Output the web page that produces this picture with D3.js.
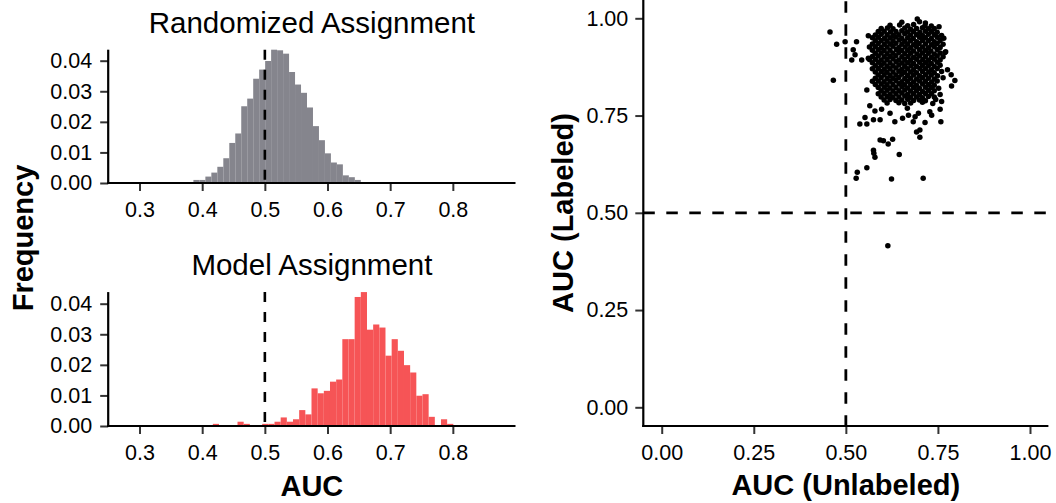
<!DOCTYPE html>
<html>
<head>
<meta charset="utf-8">
<script src="https://cdn.jsdelivr.net/npm/d3@7"></script>
<style>
  body { margin: 0; background: #fff; }
  svg text { font-family: "Liberation Sans", Arial, sans-serif; fill: #000; }
  .tick-label { font-size: 21.5px; }
  .panel-title { font-size: 29.5px; }
  .axis-title { font-size: 29px; font-weight: bold; }
</style>
</head>
<body>
<div id="chart"></div>
<script>
// tick values
const aucTicks = [0.3, 0.4, 0.5, 0.6, 0.7, 0.8];
const freqTicks = [0, 0.01, 0.02, 0.03, 0.04];
const scatterTicks = [0, 0.25, 0.5, 0.75, 1];

// Randomized Assignment histogram (frequency per bin)
const randomBinStart = 0.386;
const randomBinWidth = 0.00954;
const randomFreq = [0.0010, 0.0010, 0.0021, 0.0034, 0.0053, 0.0081, 0.0131, 0.0162, 0.0251, 0.0276,
    0.0341, 0.0371, 0.0399, 0.0436, 0.0434, 0.0423, 0.0363, 0.0322, 0.0295, 0.0247,
    0.0186, 0.0140, 0.0097, 0.0067, 0.0061, 0.0025, 0.0019, 0.0010];

// Model Assignment histogram
const modelBinStart = 0.417;
const modelBinWidth = 0.00984;
const modelFreq = [0.0007, 0, 0, 0, 0.0014, 0.0007, 0, 0, 0.0007, 0.0007,
    0.0014, 0.0028, 0.0014, 0.0022, 0.0052, 0.0038, 0.0123, 0.0107, 0.0115, 0.0145,
    0.0152, 0.0284, 0.0284, 0.0422, 0.0438, 0.0315, 0.0332, 0.0322, 0.0230, 0.0284,
    0.0246, 0.0199, 0.0175, 0.0099, 0.0104, 0.0030, 0, 0.0022, 0.0007];

// [AUC unlabeled, AUC labeled]
const aucPairs = [
    [0.694,0.998],
    [0.652,0.990],[0.700,0.991],[0.716,0.988],
    [0.620,0.982],[0.646,0.983],[0.668,0.981],[0.684,0.984],[0.715,0.981],[0.732,0.980],[0.753,0.978],
    [0.596,0.974],[0.613,0.975],[0.628,0.973],[0.660,0.975],[0.676,0.972],[0.692,0.974],[0.708,0.976],[0.724,0.973],[0.740,0.974],
    [0.588,0.966],[0.604,0.967],[0.621,0.965],[0.636,0.966],[0.652,0.968],[0.667,0.965],[0.684,0.966],[0.701,0.964],[0.716,0.967],[0.733,0.966],[0.748,0.964],
    [0.580,0.957],[0.596,0.959],[0.612,0.958],[0.629,0.956],[0.644,0.958],[0.660,0.960],[0.676,0.957],[0.692,0.958],[0.708,0.956],[0.724,0.959],[0.740,0.958],[0.760,0.956],
    [0.572,0.950],[0.588,0.951],[0.605,0.949],[0.620,0.950],[0.636,0.952],[0.652,0.949],[0.668,0.950],[0.683,0.948],[0.700,0.951],[0.716,0.950],[0.732,0.948],[0.748,0.951],[0.766,0.949],
    [0.580,0.942],[0.596,0.943],[0.612,0.941],[0.628,0.942],[0.645,0.944],[0.660,0.941],[0.676,0.942],[0.692,0.940],[0.708,0.943],[0.724,0.942],[0.740,0.940],[0.756,0.943],
    [0.572,0.934],[0.588,0.935],[0.604,0.933],[0.621,0.934],[0.636,0.936],[0.652,0.933],[0.668,0.934],[0.684,0.932],[0.699,0.935],[0.716,0.934],[0.732,0.932],[0.748,0.935],[0.764,0.933],
    [0.564,0.926],[0.580,0.927],[0.596,0.925],[0.612,0.926],[0.628,0.928],[0.644,0.925],[0.661,0.926],[0.676,0.924],[0.692,0.927],[0.708,0.926],[0.724,0.924],[0.740,0.927],[0.756,0.925],
    [0.572,0.918],[0.588,0.919],[0.604,0.917],[0.620,0.918],[0.637,0.920],[0.652,0.917],[0.668,0.918],[0.684,0.916],[0.700,0.919],[0.716,0.918],[0.731,0.916],[0.748,0.919],[0.771,0.914],
    [0.580,0.910],[0.596,0.911],[0.612,0.909],[0.628,0.910],[0.644,0.912],[0.660,0.909],[0.676,0.910],[0.693,0.908],[0.708,0.911],[0.724,0.910],[0.740,0.908],[0.756,0.911],
    [0.572,0.902],[0.588,0.903],[0.604,0.901],[0.620,0.902],[0.636,0.904],[0.652,0.901],[0.669,0.902],[0.684,0.900],[0.700,0.903],[0.716,0.902],[0.732,0.900],[0.748,0.903],[0.764,0.901],
    [0.564,0.894],[0.580,0.895],[0.596,0.893],[0.612,0.894],[0.628,0.896],[0.644,0.893],[0.660,0.894],[0.676,0.892],[0.692,0.895],[0.709,0.894],[0.724,0.892],[0.740,0.895],[0.756,0.893],
    [0.572,0.886],[0.588,0.887],[0.604,0.885],[0.620,0.886],[0.636,0.888],[0.653,0.885],[0.668,0.886],[0.684,0.884],[0.700,0.887],[0.716,0.886],[0.732,0.884],[0.748,0.887],
    [0.580,0.878],[0.596,0.879],[0.612,0.877],[0.628,0.878],[0.644,0.880],[0.660,0.877],[0.677,0.878],[0.692,0.876],[0.708,0.879],[0.724,0.878],[0.740,0.876],[0.756,0.879],
    [0.572,0.870],[0.588,0.871],[0.604,0.869],[0.620,0.870],[0.636,0.872],[0.652,0.869],[0.668,0.870],[0.684,0.868],[0.701,0.871],[0.716,0.870],[0.732,0.868],[0.748,0.871],[0.776,0.868],
    [0.580,0.862],[0.596,0.863],[0.612,0.861],[0.628,0.862],[0.644,0.864],[0.660,0.861],[0.676,0.862],[0.692,0.860],[0.708,0.863],[0.725,0.862],[0.740,0.860],[0.760,0.863],
    [0.588,0.854],[0.604,0.855],[0.620,0.853],[0.636,0.854],[0.652,0.856],[0.668,0.853],[0.684,0.854],[0.700,0.852],[0.716,0.855],[0.732,0.854],[0.749,0.852],[0.786,0.855],
    [0.580,0.846],[0.596,0.847],[0.612,0.845],[0.628,0.846],[0.644,0.848],[0.660,0.845],[0.676,0.846],[0.692,0.844],[0.708,0.847],[0.724,0.846],[0.740,0.844],[0.764,0.847],
    [0.572,0.838],[0.588,0.839],[0.604,0.837],[0.620,0.838],[0.636,0.840],[0.652,0.837],[0.668,0.838],[0.684,0.836],[0.700,0.839],[0.716,0.838],[0.733,0.836],[0.748,0.839],[0.796,0.840],
    [0.580,0.830],[0.596,0.831],[0.612,0.829],[0.628,0.830],[0.644,0.832],[0.660,0.829],[0.676,0.830],[0.692,0.828],[0.708,0.831],[0.724,0.830],[0.740,0.828],[0.787,0.826],
    [0.588,0.822],[0.604,0.823],[0.620,0.821],[0.636,0.822],[0.652,0.824],[0.668,0.821],[0.684,0.822],[0.700,0.820],[0.716,0.823],[0.732,0.822],[0.752,0.820],
    [0.596,0.814],[0.612,0.815],[0.628,0.813],[0.644,0.814],[0.660,0.816],[0.676,0.813],[0.692,0.814],[0.708,0.812],[0.724,0.815],[0.740,0.814],
    [0.588,0.806],[0.604,0.807],[0.620,0.805],[0.636,0.806],[0.652,0.808],[0.668,0.805],[0.684,0.806],[0.700,0.804],[0.716,0.807],[0.732,0.806],[0.756,0.804],
    [0.596,0.798],[0.612,0.799],[0.628,0.797],[0.644,0.798],[0.660,0.800],[0.676,0.797],[0.692,0.798],[0.708,0.796],[0.724,0.799],[0.740,0.798],
    [0.604,0.790],[0.620,0.791],[0.636,0.789],[0.652,0.790],[0.668,0.792],[0.684,0.789],[0.700,0.790],[0.716,0.788],[0.744,0.791],
    [0.612,0.782],[0.644,0.783],[0.660,0.781],[0.676,0.782],[0.708,0.784],[0.736,0.781],[0.760,0.786],
    // tail and stragglers
    [0.565,0.775],[0.579,0.762],[0.597,0.766],[0.620,0.756],[0.538,0.728],[0.557,0.728],[0.552,0.745],
    [0.575,0.739],[0.593,0.739],[0.633,0.734],[0.654,0.743],[0.667,0.769],[0.670,0.751],[0.688,0.747],
    [0.697,0.756],[0.683,0.734],[0.715,0.732],[0.728,0.760],[0.733,0.751],[0.756,0.766],[0.758,0.734],
    [0.701,0.713],[0.692,0.708],[0.701,0.694],[0.593,0.687],[0.602,0.685],[0.615,0.677],[0.627,0.689],
    [0.645,0.650],[0.575,0.661],[0.576,0.653],[0.579,0.643],[0.557,0.616],[0.531,0.604],[0.528,0.589],
    [0.624,0.587],[0.710,0.589],[0.614,0.415],
    [0.457,0.965],[0.475,0.933],[0.498,0.940],[0.529,0.940],[0.520,0.919],[0.525,0.906],[0.516,0.893],
    [0.543,0.893],[0.561,0.897],[0.561,0.955],[0.466,0.841],[0.557,0.816],[0.769,0.912]
];

/**
 * Constructor for one histogram panel
 *
 * @param freq frequency of every bin
 * @param binStart lower edge of the first bin
 * @param binWidth width of a bin
 * @param fill bar colour
 * @param layout where the panel sits
 */
function Histogram(freq, binStart, binWidth, fill, layout) {
    let self = this;
    self.freq = freq;
    self.binStart = binStart;
    self.binWidth = binWidth;
    self.fill = fill;
    self.layout = layout;
    self.init();
}

Histogram.prototype.init = function(){
    let self = this;
    self.xScale = d3.scaleLinear().domain([0.25, 0.9]).range([108.2, 515.5]);
    self.yScale = d3.scaleLinear().domain([0, 0.04])
        .range([self.layout.zeroY, self.layout.zeroY - 122.3]);
};

Histogram.prototype.update = function(svg){
    let self = this;
    let g = svg.append("g");
    let yTop = self.yScale(d3.max(self.freq));

    let bins = self.freq.map((f, i) => ({x0: self.binStart + i * self.binWidth, f: f}))
        .filter(d => d.f > 0);

    g.selectAll("rect").data(bins).enter().append("rect")
        .attr("x", d => self.xScale(d.x0))
        .attr("width", d => self.xScale(d.x0 + self.binWidth) - self.xScale(d.x0))
        .attr("y", d => self.yScale(d.f))
        .attr("height", d => self.yScale(0) - self.yScale(d.f))
        .attr("fill", self.fill);

    // chance level
    g.append("line")
        .attr("x1", self.xScale(0.5)).attr("x2", self.xScale(0.5))
        .attr("y1", yTop).attr("y2", self.yScale(0))
        .attr("stroke", "#000").attr("stroke-width", 2.6)
        .attr("stroke-dasharray", "10,10");

    let xAxis = d3.axisBottom(self.xScale).tickValues(aucTicks)
        .tickFormat(d3.format(".1f")).tickSize(8).tickPadding(10.5);
    let gx = g.append("g").attr("transform", "translate(0," + self.layout.zeroY + ")").call(xAxis);

    let yAxis = d3.axisLeft(self.yScale).tickValues(freqTicks)
        .tickFormat(d3.format(".2f")).tickSize(8).tickPadding(8);
    let gy = g.append("g").attr("transform", "translate(108.2,0)").call(yAxis);

    [gx, gy].forEach(a => {
        a.attr("font-size", null).attr("font-family", null);
        a.select(".domain").remove();
        a.selectAll(".tick line").attr("stroke", "#333").attr("stroke-width", 2);
        a.selectAll(".tick text").attr("class", "tick-label");
    });

    g.append("line").attr("x1", 107.2).attr("x2", 515.5)
        .attr("y1", self.yScale(0)).attr("y2", self.yScale(0))
        .attr("stroke", "#000").attr("stroke-width", 2.2);
    g.append("line").attr("x1", 108.2).attr("x2", 108.2)
        .attr("y1", self.yScale(0) + 1).attr("y2", yTop)
        .attr("stroke", "#000").attr("stroke-width", 2.2);

    g.append("text").attr("class", "panel-title")
        .attr("x", 311.9).attr("y", self.layout.titleY)
        .attr("text-anchor", "middle").text(self.layout.title);
};

/**
 * Scatter of labeled vs unlabeled AUC
 */
function Scatter(pairs) {
    let self = this;
    self.pairs = pairs;
    self.xScale = d3.scaleLinear().domain([-0.05, 1.05]).range([643.3, 1048.4]);
    self.yScale = d3.scaleLinear().domain([-0.05, 1.05]).range([426.75, -1.15]);
}

Scatter.prototype.update = function(svg){
    let self = this;
    let g = svg.append("g");

    g.append("line")
        .attr("x1", self.xScale(0.5)).attr("x2", self.xScale(0.5))
        .attr("y1", self.yScale(-0.05)).attr("y2", self.yScale(1.05))
        .attr("stroke", "#000").attr("stroke-width", 2.8).attr("stroke-dasharray", "11.5,11.5");
    g.append("line")
        .attr("x1", self.xScale(-0.05)).attr("x2", self.xScale(1.05))
        .attr("y1", self.yScale(0.5)).attr("y2", self.yScale(0.5))
        .attr("stroke", "#000").attr("stroke-width", 2.8).attr("stroke-dasharray", "11.5,11.5");

    g.selectAll("circle").data(self.pairs).enter().append("circle")
        .attr("cx", d => self.xScale(d[0]))
        .attr("cy", d => self.yScale(d[1]))
        .attr("r", 2.75)
        .attr("fill", "#000");

    let xAxis = d3.axisBottom(self.xScale).tickValues(scatterTicks)
        .tickFormat(d3.format(".2f")).tickSize(8).tickPadding(10.5);
    let gx = g.append("g").attr("transform", "translate(0,426)").call(xAxis);
    let yAxis = d3.axisLeft(self.yScale).tickValues(scatterTicks)
        .tickFormat(d3.format(".2f")).tickSize(8).tickPadding(7);
    let gy = g.append("g").attr("transform", "translate(643.3,0)").call(yAxis);

    [gx, gy].forEach(a => {
        a.attr("font-size", null).attr("font-family", null);
        a.select(".domain").remove();
        a.selectAll(".tick line").attr("stroke", "#333").attr("stroke-width", 2);
        a.selectAll(".tick text").attr("class", "tick-label");
    });

    g.append("line").attr("x1", 642.2).attr("x2", 1048.4).attr("y1", 426).attr("y2", 426)
        .attr("stroke", "#000").attr("stroke-width", 2.2);
    g.append("line").attr("x1", 643.3).attr("x2", 643.3).attr("y1", 427).attr("y2", 0)
        .attr("stroke", "#000").attr("stroke-width", 2.2);
};

let svg = d3.select("#chart").append("svg")
    .attr("width", 1056).attr("height", 503)
    .style("background", "#fff");

new Histogram(randomFreq, randomBinStart, randomBinWidth, "#85858d",
    {zeroY: 183, titleY: 33, title: "Randomized Assignment"}).update(svg);
new Histogram(modelFreq, modelBinStart, modelBinWidth, "#f65456",
    {zeroY: 426, titleY: 275, title: "Model Assignment"}).update(svg);
new Scatter(aucPairs).update(svg);

// shared axis titles
svg.append("text").attr("class", "axis-title")
    .attr("x", 311.9).attr("y", 496).attr("text-anchor", "middle").text("AUC");
svg.append("text").attr("class", "axis-title")
    .attr("transform", "translate(33,238) rotate(-90)").attr("text-anchor", "middle").text("Frequency");
svg.append("text").attr("class", "axis-title")
    .attr("x", 845.8).attr("y", 495).attr("text-anchor", "middle").text("AUC (Unlabeled)");
svg.append("text").attr("class", "axis-title")
    .attr("transform", "translate(573,213) rotate(-90)").attr("text-anchor", "middle").text("AUC (Labeled)");
</script>
</body>
</html>
